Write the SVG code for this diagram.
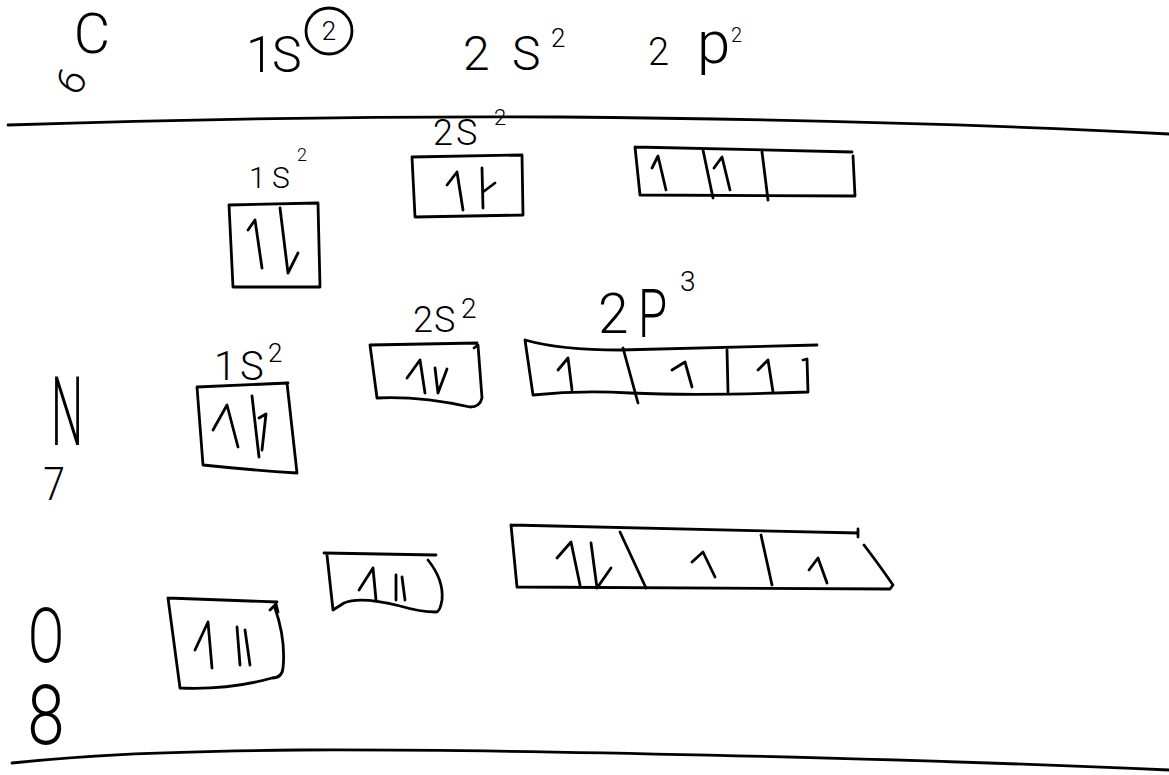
<svg xmlns="http://www.w3.org/2000/svg" width="1169" height="775" viewBox="0 0 1169 775">
<style>
.ink{fill:none;stroke:#000;stroke-width:2.8;stroke-linecap:round;stroke-linejoin:round}
.t{font-family:Roboto,"Liberation Sans",sans-serif;font-weight:300;fill:#000}
</style>
<rect width="1169" height="775" fill="#fff"/>
<g id="header">
  <text class="t" x="92" y="53" font-size="56" text-anchor="middle">C</text>
  <text class="t" font-size="40" text-anchor="middle" transform="translate(83,88) rotate(-60)">6</text>
  <text class="t" y="72" font-size="50"><tspan x="246">1</tspan><tspan x="272">S</tspan></text>
  <circle class="ink" cx="329" cy="31" r="23" stroke-width="2.2"/>
  <text class="t" x="329" y="40" font-size="26" text-anchor="middle">2</text>
  <text class="t" y="70" font-size="48"><tspan x="463">2</tspan><tspan x="512">S</tspan></text>
  <text class="t" x="551" y="47" font-size="26">2</text>
  <text class="t" x="648" y="65" font-size="38">2</text>
  <text class="t" x="697" y="63" font-size="60">p</text>
  <text class="t" x="731" y="42" font-size="20">2</text>
</g>
<g id="dividers">
  <path class="ink" d="M8,125 C200,119 400,116 560,117 C800,119 1000,125 1169,134"/>
  <path class="ink" d="M12,763 C80,756 140,752 300,750 C500,749 900,758 1169,770"/>
</g>
<g id="carbon-1s">
  <text class="t" y="188" font-size="30"><tspan x="249">1</tspan><tspan x="272">S</tspan></text>
  <text class="t" x="297" y="161" font-size="18">2</text>
  <path class="ink" d="M229,205 L318,203 L320,287 L233,287 Z"/>
  <path class="ink" d="M262,268 L255,220 L248,230"/>
  <path class="ink" d="M280,208 L288,273 L298,253"/>
</g>
<g id="carbon-2s">
  <text class="t" y="145" font-size="36"><tspan x="433">2</tspan><tspan x="456">S</tspan></text>
  <text class="t" x="494" y="125" font-size="22">2</text>
  <path class="ink" d="M412,157 L522,155 L523,215 L415,217 Z"/>
  <path class="ink" d="M463,210 L457,172 L447,185"/>
  <path class="ink" d="M482,168 L483,208 M483,192 L495,183"/>
</g>
<g id="carbon-2p">
  <path class="ink" d="M635,147 L852,152 M853,156 L855,196 L640,195 L635,147"/>
  <path class="ink" d="M703,150 L713,198 M762,152 L768,200"/>
  <path class="ink" d="M666,190 L658,156 L652,168"/>
  <path class="ink" d="M730,190 L722,157 L714,168"/>
</g>
<g id="nitrogen-label">
  <text class="t" font-size="96" text-anchor="middle" transform="translate(67,445) scale(0.47,1)">N</text>
  <text class="t" font-size="46" text-anchor="middle" transform="translate(54,500) scale(0.85,1)">7</text>
</g>
<g id="nitrogen-1s">
  <text class="t" y="380" font-size="40"><tspan x="214">1</tspan><tspan x="240">S</tspan></text>
  <text class="t" x="268" y="362" font-size="26">2</text>
  <path class="ink" d="M197,387 L288,383 M287,383 L297,473 Q250,470 203,465 L197,387"/>
  <path class="ink" d="M238,447 L227,405 L213,430"/>
  <path class="ink" d="M252,396 L259,457 M259,418 L266,414 L262,450"/>
</g>
<g id="nitrogen-2s">
  <text class="t" y="332" font-size="36"><tspan x="413">2</tspan><tspan x="434">S</tspan></text>
  <text class="t" x="461" y="318" font-size="28">2</text>
  <path class="ink" d="M370,345 L477,343 M474,348 L478,345 L482,398 Q480,407 470,407 Q420,396 377,398 L370,345"/>
  <path class="ink" d="M425,393 L420,360 L407,378"/>
  <path class="ink" d="M435,368 L438,393 L447,369"/>
</g>
<g id="nitrogen-2p">
  <text class="t" x="598" y="333" font-size="55">2</text>
  <text class="t" font-size="66" transform="translate(638,337) scale(0.72,1)">P</text>
  <text class="t" x="680" y="291" font-size="28">3</text>
  <path class="ink" d="M525,340 Q560,350 620,350 L817,345 M803,360 L807,359 L808,392 Q700,396 630,393 Q580,390 533,395 L525,340"/>
  <path class="ink" d="M623,348 L638,403 M727,350 L728,392"/>
  <path class="ink" d="M572,390 L568,358 L558,370"/>
  <path class="ink" d="M692,387 L685,362 L672,370"/>
  <path class="ink" d="M773,392 L768,360 L758,370"/>
</g>
<g id="oxygen-label">
  <text class="t" font-size="76" text-anchor="middle" transform="translate(46,662) scale(0.7,1)">O</text>
  <text class="t" font-size="84" text-anchor="middle" transform="translate(46,744) scale(0.8,1)">8</text>
</g>
<g id="oxygen-1s">
  <path class="ink" d="M168,598 L277,602 M270,610 L276,604 L278,612 M275,608 Q286,640 283,668 Q282,678 272,678 Q230,690 180,688 L168,598"/>
  <path class="ink" d="M212,668 L208,622 L195,650"/>
  <path class="ink" d="M237,627 L240,665 M245,630 L250,665"/>
</g>
<g id="oxygen-2s">
  <path class="ink" d="M324,553 L436,555 M428,560 Q444,580 442,600 Q440,612 436,612 Q420,612 400,606 Q360,596 344,603 L333,610 L327,555"/>
  <path class="ink" d="M376,600 L373,568 L359,590"/>
  <path class="ink" d="M396,575 L396,600 M402,577 L405,600"/>
</g>
<g id="oxygen-2p">
  <path class="ink" d="M511,525 L858,533 M858,529 L858,537 M864,545 Q880,566 893,585 L890,589 L517,587 L511,525"/>
  <path class="ink" d="M620,532 L646,588 M761,535 L772,585"/>
  <path class="ink" d="M580,585 L571,542 L557,558"/>
  <path class="ink" d="M591,543 L597,588 L611,568"/>
  <path class="ink" d="M715,577 L703,552 L692,562"/>
  <path class="ink" d="M827,583 L818,558 L809,570"/>
</g>
</svg>
